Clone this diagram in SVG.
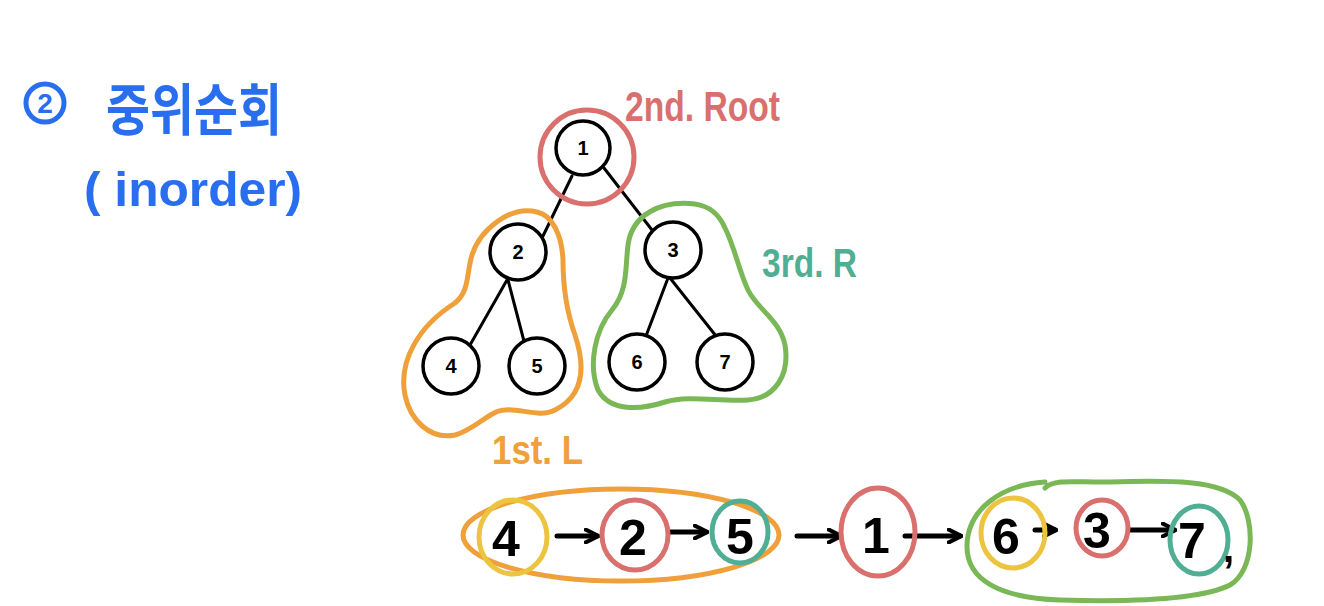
<svg xmlns="http://www.w3.org/2000/svg" width="1324" height="606" viewBox="0 0 1324 606">
<style>
.node circle{fill:#fff;stroke:#000;stroke-width:3.5}
.node text{font-family:"Liberation Sans",sans-serif;font-size:20px;font-weight:bold;text-anchor:middle;fill:#000}
.edge{stroke:#000;stroke-width:3;fill:none;stroke-linecap:round}
.ring{fill:none;stroke-width:5;stroke-linecap:round;stroke-linejoin:round}
.blue{fill:#2a6ef0;font-family:"Liberation Sans","Noto Sans CJK KR",sans-serif;font-weight:bold}
.lbl{font-family:"Liberation Sans",sans-serif;font-weight:bold}
.big{font-family:"Liberation Sans",sans-serif;font-size:50px;font-weight:bold;fill:#000;text-anchor:middle}
.arrow{stroke:#000;stroke-width:5;fill:none;stroke-linecap:round}
</style>
<defs>
<marker id="ah" viewBox="0 0 10 10" refX="8" refY="5" markerWidth="3.2" markerHeight="3.2" orient="auto">
<path d="M1,1 L9,5 L1,9" fill="none" stroke="#000" stroke-width="2.5" stroke-linecap="round"/>
</marker>
</defs>
<rect width="1324" height="606" fill="#fff"/>

<g id="title">
<circle cx="45" cy="103" r="19" fill="none" stroke="#2a6ef0" stroke-width="5"/>
<text x="45" y="113" class="blue" font-size="28" text-anchor="middle">2</text>
<text x="106" y="130" class="blue" font-size="56" textLength="176" lengthAdjust="spacingAndGlyphs">중위순회</text>
<text x="84" y="206" class="blue" font-size="48" textLength="218" lengthAdjust="spacingAndGlyphs">( inorder)</text>
</g>

<g id="connectors">
<line class="edge" x1="572" y1="176" x2="543" y2="236"/>
<line class="edge" x1="604" y1="168" x2="652" y2="230"/>
<line class="edge" x1="507" y1="280" x2="470" y2="345"/>
<line class="edge" x1="508" y1="280" x2="525" y2="345"/>
<line class="edge" x1="668" y1="278" x2="646" y2="336"/>
<line class="edge" x1="670" y1="278" x2="716" y2="336"/>
<line class="arrow" x1="557" y1="536" x2="597" y2="536" marker-end="url(#ah)"/>
<line class="arrow" x1="670" y1="532" x2="706" y2="532" marker-end="url(#ah)"/>
<line class="arrow" x1="797" y1="536" x2="840" y2="536" marker-end="url(#ah)"/>
<line class="arrow" x1="905" y1="536" x2="960" y2="536" marker-end="url(#ah)"/>
<line class="arrow" x1="1035" y1="530" x2="1055" y2="530" marker-end="url(#ah)"/>
<line class="arrow" x1="1130" y1="530" x2="1174" y2="530" marker-end="url(#ah)"/>
</g>

<g id="node-1" class="node"><circle cx="583" cy="148" r="27"/><text x="583" y="155">1</text></g>
<g id="node-2" class="node"><circle cx="518" cy="252" r="28"/><text x="518" y="259">2</text></g>
<g id="node-3" class="node"><circle cx="673" cy="250" r="28"/><text x="673" y="257">3</text></g>
<g id="node-4" class="node"><circle cx="451" cy="366" r="28"/><text x="451" y="373">4</text></g>
<g id="node-5" class="node"><circle cx="537" cy="366" r="28"/><text x="537" y="373">5</text></g>
<g id="node-6" class="node"><circle cx="637" cy="362" r="28"/><text x="637" y="369">6</text></g>
<g id="node-7" class="node"><circle cx="725" cy="362" r="28"/><text x="725" y="369">7</text></g>

<g id="root-ring"><circle class="ring" cx="587" cy="157" r="47" stroke="#d9706e"/></g>
<g id="left-blob"><path class="ring" stroke="#efa03a" d="M537,212 C510,205 480,230 472,255 C466,275 470,290 455,303 C420,325 398,360 405,395 C410,420 430,440 455,435 C475,430 490,410 505,410 C520,408 540,418 555,410 C585,395 585,365 575,335 C566,310 563,285 563,260 C562,235 552,215 537,212 Z"/></g>
<g id="right-blob"><path class="ring" stroke="#7ab857" d="M695,204 C660,200 632,215 628,245 C625,270 628,290 612,310 C595,330 588,365 598,390 C610,412 640,410 665,402 C690,395 720,402 748,400 C775,398 790,375 785,345 C780,320 758,310 748,290 C738,268 735,248 725,228 C718,212 708,206 695,204 Z"/></g>

<g id="labels">
<text class="lbl" x="625" y="121" font-size="42" fill="#d9706e" textLength="155" lengthAdjust="spacingAndGlyphs">2nd. Root</text>
<text class="lbl" x="762" y="277" font-size="40" fill="#4fae94" textLength="95" lengthAdjust="spacingAndGlyphs">3rd. R</text>
<text class="lbl" x="492" y="464" font-size="40" fill="#efa03a" textLength="91" lengthAdjust="spacingAndGlyphs">1st. L</text>
</g>

<g id="seq-left">
<ellipse class="ring" cx="621" cy="535" rx="158" ry="46" stroke="#efa03a"/>
<ellipse class="ring" cx="513" cy="537" rx="34" ry="37" stroke="#ecc440"/>
<text class="big" x="506" y="556">4</text>
<ellipse class="ring" cx="635" cy="535" rx="33" ry="35" stroke="#d9706e"/>
<text class="big" x="633" y="555">2</text>
<ellipse class="ring" cx="740" cy="532" rx="28" ry="31" stroke="#4fae94"/>
<text class="big" x="740" y="554">5</text>
</g>
<g id="seq-root">
<ellipse class="ring" cx="878" cy="532" rx="37" ry="44" stroke="#d9706e"/>
<text class="big" x="876" y="553">1</text>
</g>
<g id="seq-right">
<path class="ring" stroke="#7ab857" d="M1045,482 C1000,485 968,510 967,545 C966,580 1000,598 1060,600 C1130,602 1200,600 1230,585 C1255,570 1255,520 1240,500 C1220,480 1170,480 1110,482 C1080,483 1055,478 1045,488"/>
<ellipse class="ring" cx="1013" cy="533" rx="32" ry="35" stroke="#ecc440"/>
<text class="big" x="1006" y="554">6</text>
<ellipse class="ring" cx="1102" cy="528" rx="26" ry="28" stroke="#d9706e"/>
<text class="big" x="1097" y="548">3</text>
<ellipse class="ring" cx="1199" cy="540" rx="29" ry="34" stroke="#4fae94"/>
<text class="big" x="1192" y="558">7</text>
<text x="1223" y="562" font-family="Liberation Sans,sans-serif" font-size="40" font-weight="bold">,</text>
</g>
</svg>
